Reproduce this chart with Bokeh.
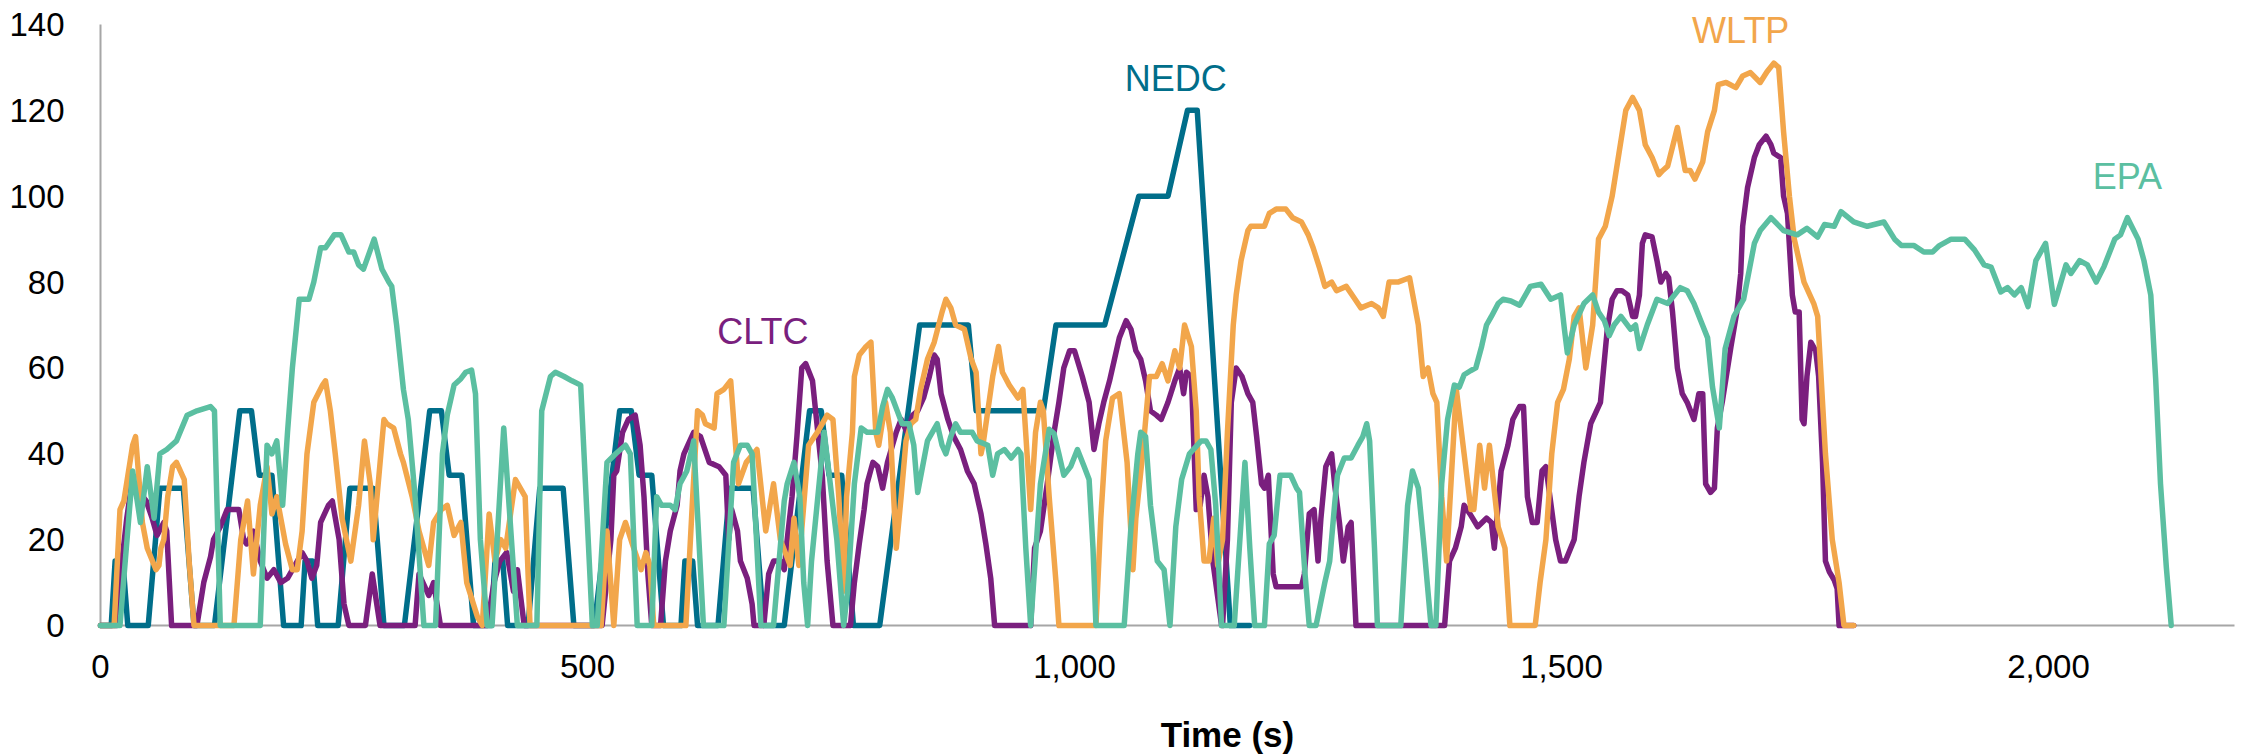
from bokeh.plotting import figure
from bokeh.models import Range1d, FixedTicker, NumeralTickFormatter, Label
from bokeh.embed import file_html
from bokeh.resources import INLINE

# ---------------- data ----------------
x_ticks = [0, 500, 1000, 1500, 2000]
y_ticks = [0, 20, 40, 60, 80, 100, 120, 140]

nedc_t = [0, 11, 15, 23, 28, 49, 61, 85, 96, 117, 143, 155, 163, 176, 188,
          195, 206, 210, 218, 223, 244, 256, 280, 291, 312, 338, 350, 358, 371, 383,
          390, 401, 405, 413, 418, 439, 451, 475, 486, 507, 533, 545, 553, 566, 578,
          585, 596, 600, 608, 613, 634, 646, 670, 681, 702, 728, 740, 748, 761, 773,
          780, 800, 841, 891, 899, 968, 981, 1031, 1066, 1096, 1116, 1126, 1160, 1180]
nedc_v = [0, 0, 15, 15, 0, 0, 32, 32, 0, 0, 50, 50, 35, 35, 0,
          0, 0, 15, 15, 0, 0, 32, 32, 0, 0, 50, 50, 35, 35, 0,
          0, 0, 15, 15, 0, 0, 32, 32, 0, 0, 50, 50, 35, 35, 0,
          0, 0, 15, 15, 0, 0, 32, 32, 0, 0, 50, 50, 35, 35, 0,
          0, 0, 70, 70, 50, 50, 70, 70, 100, 100, 120, 120, 0, 0]

cltc_t = [0, 17, 22, 27, 32, 40, 47, 53, 58, 65, 68, 73, 99, 106, 113, 116, 123, 130, 137, 142,
          147, 150, 157, 164, 171, 178, 185, 192, 207, 212, 217, 222, 226, 234, 238, 245, 250, 255,
          272, 279, 287, 323, 327, 337, 342, 349, 397, 404, 410, 417, 424, 428, 435, 515, 524, 527,
          530, 536, 542, 549, 554, 558, 562, 566, 575, 580, 585, 592, 595, 599, 609, 616, 625, 635,
          642, 645, 648, 654, 657, 664, 669, 671, 681, 686, 691, 698, 702, 705, 710, 715, 720, 724,
          731, 741, 746, 752, 770, 774, 779, 784, 787, 793, 798, 803, 808, 817, 822, 828, 834, 839,
          845, 851, 856, 859, 863, 870, 876, 883, 890, 897, 904, 909, 914, 918, 955, 959, 965, 972,
          979, 984, 989, 995, 1000, 1008, 1015, 1020, 1025, 1030, 1036, 1041, 1046, 1053, 1058, 1063,
          1068, 1073, 1078, 1084, 1089, 1096, 1103, 1108, 1112, 1115, 1120, 1125, 1129, 1133, 1137,
          1142, 1151, 1152, 1157, 1161, 1166, 1172, 1178, 1183, 1187, 1192, 1195, 1199, 1204, 1207,
          1219, 1233, 1236, 1241, 1246, 1250, 1253, 1258, 1264, 1267, 1272, 1276, 1281, 1284, 1289,
          1380, 1385, 1391, 1397, 1400, 1406, 1414, 1423, 1428, 1431, 1438, 1445, 1450, 1457, 1461,
          1465, 1470, 1475, 1480, 1484, 1494, 1499, 1504, 1513, 1518, 1523, 1530, 1540, 1547, 1552,
          1557, 1562, 1568, 1573, 1576, 1580, 1583, 1586, 1593, 1598, 1602, 1607, 1610, 1614, 1619,
          1624, 1629, 1636, 1641, 1645, 1648, 1653, 1657, 1660, 1665, 1674, 1680, 1684, 1686, 1691,
          1698, 1703, 1710, 1715, 1718, 1725, 1728, 1732, 1737, 1740, 1744, 1747, 1749, 1752, 1756,
          1761, 1764, 1768, 1771, 1775, 1780, 1783, 1785, 1800]
cltc_v = [0, 0, 15, 25, 33, 31, 29, 25, 21, 24, 22, 0, 0, 10, 16, 20, 23, 27, 27, 27,
          20, 19, 22, 15, 11, 13, 10, 11, 17, 15, 11, 14, 24, 28, 29, 20, 5, 0,
          0, 12, 0, 0, 12, 7, 10, 0, 0, 10, 15, 17, 8, 13, 0, 0, 20, 35,
          36, 45, 48, 49, 42, 30, 12, 0, 0, 15, 22, 28, 36, 40, 45, 44, 38, 37,
          35, 20, 27, 22, 15, 11, 5, 0, 0, 12, 15, 15, 13, 20, 30, 44, 60, 61,
          57, 35, 15, 0, 0, 10, 19, 27, 33, 38, 37, 32, 38, 45, 48, 45, 49, 50,
          53, 58, 63, 62, 54, 48, 44, 41, 36, 33, 26, 19, 11, 0, 0, 18, 22, 33,
          45, 52, 60, 64, 64, 58, 52, 41, 47, 52, 57, 62, 67, 71, 69, 64,
          62, 57, 50, 49, 48, 52, 57, 60, 54, 59, 58, 27, 28, 35, 30,
          15, 0, 0, 20, 52, 60, 58, 54, 52, 44, 33, 32, 35, 12, 9,
          9, 9, 12, 26, 27, 15, 25, 37, 40, 33, 24, 15, 23, 24, 0,
          0, 15, 18, 23, 28, 26, 23, 25, 24, 18, 36, 42, 48, 51, 51,
          30, 24, 24, 36, 37, 20, 15, 15, 20, 30, 38, 47, 52, 69, 76,
          78, 78, 77, 72, 72, 77, 89, 91, 90.5, 85, 80, 82, 81, 73, 60,
          54, 52, 48, 54, 54, 33, 31, 32, 46, 52, 65, 73, 82, 93, 102,
          109, 112, 114, 112, 110, 109, 100, 96, 77, 73, 73, 48, 47, 58, 66,
          64, 58, 38, 15, 12.5, 10.6, 8.6, 0, 0]

wltp_t = [0, 14, 20, 24, 33, 36, 43, 48, 57, 60, 62, 65, 69, 74, 78, 86, 91, 96,
          137, 144, 151, 157, 164, 171, 176, 181, 190, 197, 202, 207, 212, 219, 228, 231, 236, 241,
          248, 257, 265, 271, 277, 280, 291, 294, 301, 308, 311, 320, 327, 337, 342, 350, 356, 363,
          370, 376, 387, 392, 399, 405, 411, 416, 426, 431, 436, 441, 514, 520, 527, 533, 539, 546,
          555, 560, 564, 568, 601, 608, 613, 618, 621, 630, 633, 640, 647, 651, 655, 663, 674, 683,
          691, 698, 708, 712, 717, 722, 727, 736, 746, 752, 758, 763, 766, 772, 774, 779, 786, 791,
          796, 799, 806, 811, 817, 822, 827, 832, 837, 842, 849, 856, 864, 868, 873, 878, 887, 894,
          899, 904, 906, 916, 922, 926, 933, 942, 947, 955, 960, 965, 968, 974, 981, 984, 1022, 1027,
          1032, 1039, 1046, 1054, 1060, 1063, 1070, 1077, 1084, 1090, 1096, 1103, 1108, 1113, 1120,
          1125, 1128, 1133, 1138, 1143, 1147, 1152, 1157, 1163, 1166, 1171, 1178, 1181, 1195, 1200,
          1207, 1217, 1224, 1233, 1240, 1245, 1252, 1257, 1264, 1269, 1279, 1288, 1294, 1305, 1312,
          1317, 1323, 1332, 1344, 1353, 1358, 1363, 1368, 1372, 1377, 1382, 1387, 1392, 1400, 1407,
          1410, 1416, 1421, 1426, 1435, 1442, 1447, 1473, 1478, 1484, 1490, 1496, 1502, 1508, 1513,
          1518, 1525, 1532, 1538, 1545, 1552, 1559, 1566, 1573, 1580, 1586, 1593, 1600, 1604, 1609,
          1619, 1627, 1632, 1637, 1645, 1650, 1657, 1661, 1669, 1679, 1686, 1694, 1704, 1711, 1718,
          1723, 1728, 1734, 1739, 1749, 1759, 1763, 1766, 1771, 1778, 1785, 1790, 1800]
wltp_v = [0, 0, 27, 29, 42, 44, 24, 18, 13, 14, 18, 20, 30, 37, 38, 34, 15, 0,
          0, 20, 29, 12, 28, 37, 26, 30, 19, 13, 13, 22, 40, 52, 56, 57, 50, 40,
          25, 15, 28, 43, 33, 20, 48, 47, 46, 40, 38, 30, 22, 14, 24, 27, 28, 21,
          24, 10, 2, 0, 26, 15, 20, 18, 34, 32, 30, 0, 0, 22, 0, 20, 24, 19,
          13, 17, 14, 0, 0, 30, 50, 49, 47, 46, 54, 55, 57, 45, 33, 38, 41, 22,
          33, 20, 14, 25, 14, 28, 42, 45, 49, 48, 30, 8, 30, 45, 58, 63, 65, 66,
          45, 42, 52, 45, 18, 30, 43, 47, 48, 55, 62, 66, 73, 76, 74, 70, 69, 62,
          59, 40, 42, 58, 65, 59, 56, 53, 55, 27, 45, 52, 50, 30, 10, 0, 0, 25,
          43, 53, 54, 38, 13, 25, 40, 58, 58, 61, 57, 64, 60, 70, 65,
          50, 30, 15, 15, 25, 14, 20, 45, 70, 77, 85, 92, 93, 93, 96,
          97, 97, 95, 94, 91, 88, 83, 79, 80, 78, 79, 76, 74, 75, 74,
          72, 80, 80, 81, 70, 58, 60, 54, 52, 30, 15, 35, 55, 40, 27,
          27, 42, 32, 42, 23, 18, 0, 0, 10, 20, 40, 52, 55, 62, 72,
          74, 60, 70, 90, 93, 100, 110, 120, 123, 120, 112, 109, 105, 106, 107,
          116, 106, 106, 104, 108, 115, 120, 126, 126.5, 125.3, 128, 128.8, 126.5, 129, 131,
          130, 115, 100, 90, 80, 75, 72, 60, 40, 20, 10, 0, 0]

epa_t = [0, 20, 33, 41, 48, 55, 61, 68, 78, 89, 99, 113, 117, 123, 164, 171, 176, 181, 187, 192,
         197, 204, 214, 219, 226, 231, 240, 247, 255, 260, 265, 270, 281, 289, 296, 299, 304, 311,
         316, 323, 329, 332, 344, 351, 356, 363, 370, 375, 381, 385, 390, 397, 402, 414, 428, 448,
         453, 462, 467, 476, 484, 493, 505, 510, 520, 529, 539, 544, 551, 566, 571, 576, 585, 590,
         595, 602, 609, 619, 640, 650, 657, 664, 669, 678, 691, 702, 705, 712, 718, 722, 726, 730,
         743, 756, 763, 767, 774, 781, 787, 798, 803, 808, 813, 818, 823, 830, 835, 839, 844, 849,
         854, 859, 864, 868, 873, 878, 883, 890, 895, 900, 911, 916, 921, 928, 935, 942, 945, 950,
         955, 965, 974, 979, 984, 989, 996, 1003, 1010, 1015, 1019, 1022, 1051, 1058, 1065, 1068,
         1073, 1078, 1085, 1092, 1098, 1104, 1110, 1118, 1130, 1135, 1140, 1145, 1151, 1164, 1175,
         1180, 1185, 1195, 1200, 1205, 1211, 1217, 1222, 1228, 1231, 1236, 1241, 1248, 1257, 1262,
         1267, 1270, 1277, 1284, 1291, 1296, 1300, 1303, 1308, 1311, 1335, 1342, 1347, 1353, 1359,
         1366, 1371, 1377, 1383, 1390, 1395, 1400, 1407, 1412, 1418, 1423, 1428, 1435, 1440, 1448,
         1457, 1468, 1479, 1489, 1499, 1503, 1506, 1513, 1523, 1532, 1538, 1544, 1549, 1554, 1561,
         1571, 1576, 1580, 1588, 1598, 1609, 1622, 1629, 1636, 1643, 1650, 1655, 1662, 1668, 1677,
         1687, 1698, 1704, 1715, 1728, 1742, 1752, 1763, 1770, 1780, 1787, 1800, 1814, 1831, 1842,
         1849, 1862, 1872, 1881, 1888, 1900, 1914, 1924, 1934, 1941, 1951, 1958, 1965, 1972, 1979,
         1987, 1997, 2006, 2018, 2023, 2032, 2040, 2049, 2057, 2068, 2074, 2081, 2092, 2098, 2105,
         2110, 2115, 2121, 2126]
epa_v = [0, 0, 36, 24, 37, 25, 40, 41, 43, 49, 50, 51, 50, 0, 0, 42, 40, 43, 28, 45,
         60, 76, 76, 80, 88, 88, 91, 91, 87, 87, 84, 83, 90, 83, 80, 79, 70, 55,
         48, 30, 10, 0, 0, 40, 49, 56, 57.5, 59, 59.5, 54, 20, 0, 0, 46, 0, 0,
         50, 58, 59, 58, 57, 56, 0, 0, 38, 40, 42, 40, 0, 0, 30, 28, 28, 27,
         33, 36, 43, 0, 0, 38, 42, 42, 40, 0, 0, 29, 33, 38, 30, 10, 0, 15,
         45, 20, 0, 8, 33, 46, 45, 45, 51, 55, 53, 50, 47, 47, 42, 31, 37, 43,
         45, 47, 42, 40, 44, 47, 45, 45, 45, 43, 42, 35, 40, 41, 39, 41, 40, 18,
         0, 33, 45.7, 44.7, 40, 35, 37, 41, 37, 34, 18, 0, 0, 23, 40, 45,
         44, 28, 15, 13, 0, 23, 34, 40, 43, 43, 41, 28, 0, 0, 38,
         18, 0, 0, 19, 21, 35, 35, 35, 32, 31, 14, 0, 0, 10, 15,
         28, 35, 39, 39, 42, 44, 47, 43, 18, 0, 0, 28, 36, 32, 18,
         0, 0, 33, 48, 56, 55.5, 58.4, 59.4, 60, 65, 70, 72, 75, 76, 75.6,
         74.6, 79, 79.5, 76, 77, 69, 63.5, 70, 75, 77, 73, 71, 67.5, 70, 72,
         69, 70, 64.5, 70, 76, 75, 78.7, 78, 75, 71, 67, 55.6, 46, 64.5, 72,
         76, 89, 92, 95, 92, 91, 92.5, 90.5, 93.4, 93, 96.4, 94, 93, 94, 90,
         88.5, 88.5, 87, 87, 88.5, 90, 90, 87.5, 84, 83.5, 77.7, 78.7, 77, 78.7, 74.3,
         85, 89, 74.8, 84, 82, 85, 84, 80, 83.6, 90, 91, 95, 90, 85, 77,
         57.6, 33, 13.5, 0]

series_names = ["NEDC", "CLTC", "WLTP", "EPA"]
series_colors = ["#006E8A", "#7A1F7E", "#F2A64B", "#5BBFA1"]
label_t = [1104, 680, 1684, 2081]
label_v = [127.5, 68.6, 138.5, 104.5]
x_title = "Time (s)"

# ---------------- figure ----------------
FONT = "Liberation Sans"
p = figure(width=2241, height=756, output_backend="svg", toolbar_location=None,
           x_range=Range1d(-102.67, 2198.15), y_range=Range1d(-30.516, 145.591),
           min_border_left=0, min_border_right=0, min_border_top=0, min_border_bottom=0)
p.outline_line_color = None
p.xgrid.visible = False
p.ygrid.visible = False
p.background_fill_color = "white"
p.border_fill_color = "white"

data = {"NEDC": (nedc_t, nedc_v), "CLTC": (cltc_t, cltc_v),
        "WLTP": (wltp_t, wltp_v), "EPA": (epa_t, epa_v)}
for name, col in zip(series_names, series_colors):
    t, v = data[name]
    p.line(t, v, line_color=col, line_width=5.5, line_join="round", line_cap="round")

for name, col, lt, lv in zip(series_names, series_colors, label_t, label_v):
    p.add_layout(Label(x=lt, y=lv, text=name, text_color=col, text_font=FONT,
                       text_font_size="36px", text_align="center", text_baseline="alphabetic"))

p.add_layout(Label(x=1157, y=-25.5, text=x_title, text_color="black", text_font=FONT,
                   text_font_size="35px", text_font_style="bold",
                   text_align="center", text_baseline="alphabetic"))

for ax in (p.xaxis[0], p.yaxis[0]):
    ax.fixed_location = 0
    ax.level = "underlay"
    ax.axis_line_color = "#A6A6A6"
    ax.axis_line_width = 2
    ax.major_tick_line_color = None
    ax.minor_tick_line_color = None
    ax.major_label_text_font = FONT
    ax.major_label_text_font_size = "33px"
    ax.major_label_text_color = "black"

p.xaxis[0].bounds = (0, 2191)
p.yaxis[0].bounds = (0, 140)
p.xaxis[0].ticker = FixedTicker(ticks=x_ticks)
p.yaxis[0].ticker = FixedTicker(ticks=y_ticks)
p.xaxis[0].formatter = NumeralTickFormatter(format="0,0")
p.xaxis[0].major_label_standoff = 24
p.yaxis[0].major_label_standoff = 30

open("out.html", "w").write(file_html(p, INLINE))
